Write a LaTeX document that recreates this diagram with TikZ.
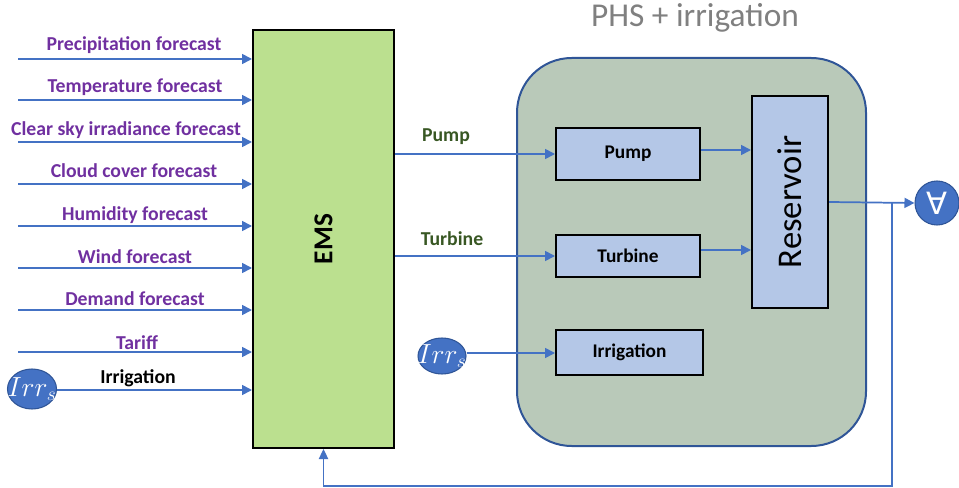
\documentclass[tikz,border=0pt]{standalone}
\usepackage{fontspec}
\setmainfont{Carlito}
\newfontfamily\djv{DejaVu Sans}
\usetikzlibrary{arrows.meta,shapes.geometric}
\definecolor{arrblue}{HTML}{4472C4}
\definecolor{darkblue}{HTML}{2F5597}
\definecolor{emsgreen}{HTML}{BBE08F}
\definecolor{phsfill}{HTML}{B9C9B9}
\definecolor{boxblue}{HTML}{B4C7E7}
\definecolor{lblpurple}{HTML}{7030A0}
\definecolor{lblgreen}{HTML}{385723}
\definecolor{titlegray}{HTML}{808080}
\tikzset{
  arr/.style={draw=arrblue,line width=1.3pt,-{Triangle[length=7.5pt,width=7.5pt]}},
  fbline/.style={draw=arrblue,line width=0.8pt,-{Triangle[length=7.5pt,width=7pt]}},
  blk/.style={draw=black,line width=1.5pt,fill=boxblue,inner sep=0pt,font=\fontsize{14.5}{17}\selectfont\bfseries},
  inlbl/.style={anchor=base,text=lblpurple,inner sep=0pt,font=\fontsize{14.8}{17}\selectfont\bfseries},
  outlbl/.style={anchor=base,text=lblgreen,inner sep=0pt,font=\fontsize{14.8}{17}\selectfont\bfseries},
  bubble/.style={ellipse,draw=darkblue,line width=0.8pt,fill=arrblue,inner sep=0pt},
  bubtxt/.style={text=white,inner sep=0pt,font=\fontsize{21}{21}\selectfont}
}
\begin{document}
\begin{tikzpicture}[x=0.75pt,y=-0.75pt]
\useasboundingbox (0,0) rectangle (959,488);
% title
\node[anchor=base,text=titlegray,inner sep=0pt,font=\fontsize{25}{30}\selectfont] (title) at (695,27) {PHS + irrigation};
% PHS container
\node[draw=darkblue,line width=1.5pt,fill=phsfill,rounded corners=41pt,minimum width=261.75pt,minimum height=291pt,inner sep=0pt] (phs) at (691.5,252) {};
% EMS
\node[draw=black,line width=1.5pt,fill=emsgreen,minimum width=105.75pt,minimum height=313.5pt,inner sep=0pt] (ems) at (323.5,239) {};
\node[rotate=90,font=\fontsize{20.5}{24}\selectfont\bfseries] (emstxt) at (323.5,239) {EMS};
% inner boxes
\node[blk,minimum width=108pt,minimum height=39pt] (pump) at (628,154) {Pump};
\node[blk,minimum width=108pt,minimum height=31.5pt] (turb) at (628,256) {Turbine};
\node[blk,minimum width=110.25pt,minimum height=33.75pt] (irrb) at (629.5,352.5) {Irrigation};
\node[draw=black,line width=1.5pt,fill=boxblue,minimum width=57pt,minimum height=159pt,inner sep=0pt] (res) at (790,202) {};
\node[rotate=90,font=\fontsize{26}{30}\selectfont] (restxt) at (790,202) {Reservoir};
% bubbles
\node[bubble,minimum width=36.75pt,minimum height=30pt] (irrL) at (32,389) {};
\node[bubtxt] (irrLt) at (32,389) {$Irr_s$};
\node[bubble,minimum width=36pt,minimum height=27pt] (irrM) at (442,356) {};
\node[bubtxt] (irrMt) at (442,356) {$Irr_s$};
\node[bubble,circle,minimum size=33pt] (all) at (937,203) {};
\node[text=white,inner sep=0pt,font=\djv\fontsize{23}{23}\selectfont] (allt) at (937,203) {∀};
% input arrows
\foreach \n/\y in {1/59,2/100,3/142,4/184,5/226,6/268,7/310,8/352}{
  \coordinate (in\n) at (18,\y);
  \draw[arr] (in\n) -- (in\n -| ems.west);
}
\draw[arr] (irrL.east |- 0,390) -- (ems.west |- 0,390);
% input labels
\node[inlbl] (l1) at (134,51) {Precipitation forecast};
\node[inlbl] (l2) at (135,93) {Temperature forecast};
\node[inlbl] (l3) at (126,136) {Clear sky irradiance forecast};
\node[inlbl] (l4) at (134,178) {Cloud cover forecast};
\node[inlbl] (l5) at (135,221) {Humidity forecast};
\node[inlbl] (l6) at (135,263) {Wind forecast};
\node[inlbl] (l7) at (135,305) {Demand forecast};
\node[inlbl] (l8) at (137,349) {Tariff};
\node[inlbl,text=black] (l9) at (138,383) {Irrigation};
% outputs of EMS
\draw[arr] (pump.west -| ems.east) -- (pump.west);
\draw[arr] (turb.west -| ems.east) -- (turb.west);
\node[outlbl] (lp) at (446,142) {Pump};
\node[outlbl] (lt) at (452,245) {Turbine};
% to reservoir
\draw[arr] (pump.east |- 0,150) -- (res.west |- 0,150);
\draw[arr] (turb.east |- 0,250) -- (res.west |- 0,250);
% irrigation
\draw[arr] (irrM.east |- 0,353) -- (irrb.west |- 0,353);
% reservoir to forall
\draw[arr] (res.east) -- (all.west);
% feedback
\coordinate (fb0) at (892,203);
\coordinate (fb1) at (892,486);
\coordinate (fb2) at (ems.south |- fb1);
\draw[fbline] (fb0) -- (fb1) -- (fb2) -- (ems.south);
\end{tikzpicture}
\end{document}
